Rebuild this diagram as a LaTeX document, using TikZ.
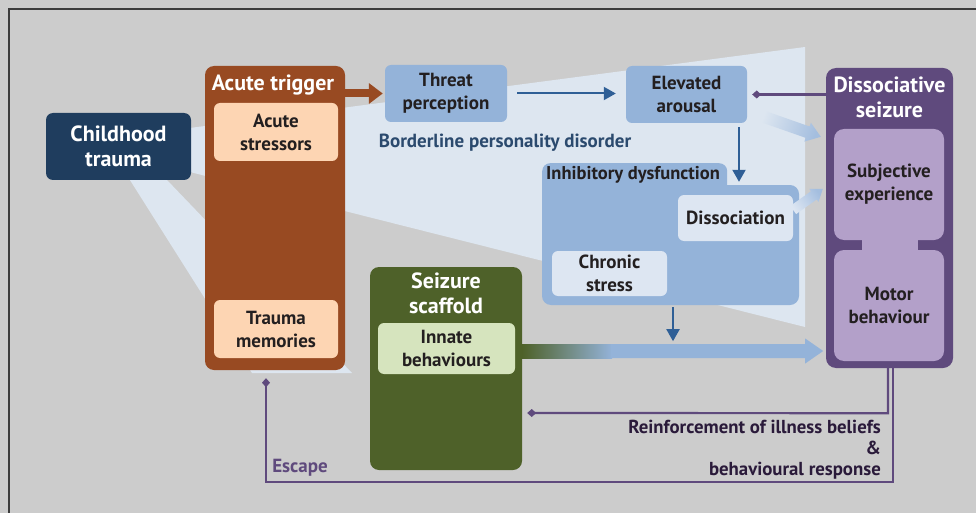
\documentclass[tikz,border=0pt]{standalone}
\usepackage{fontspec}
\setmainfont{PT Sans}
\usetikzlibrary{arrows.meta,calc}

\definecolor{bggray}{HTML}{CCCCCC}
\definecolor{framegray}{HTML}{3C3C3C}
\definecolor{wedge}{HTML}{DDE6F0}
\definecolor{navy}{HTML}{1F3D5E}
\definecolor{rust}{HTML}{984A22}
\definecolor{peach}{HTML}{FDD5B3}
\definecolor{midblue}{HTML}{94B3D9}
\definecolor{fadeblue}{HTML}{A4BEDF}
\definecolor{paleblue}{HTML}{DDE6F2}
\definecolor{deepblue}{HTML}{2F5F96}
\definecolor{bpdtext}{HTML}{2B4A6E}
\definecolor{plum}{HTML}{5F4A7D}
\definecolor{lavender}{HTML}{B3A0C9}
\definecolor{moss}{HTML}{4E6129}
\definecolor{palegreen}{HTML}{D6E4BE}
\definecolor{ink}{HTML}{231F20}
\definecolor{darkplum}{HTML}{2A1A3A}

\tikzset{
  box/.style={rounded corners=7pt, inner sep=0pt, align=center},
  inner/.style={box, rounded corners=6pt, text=ink,
    font=\bfseries\fontsize{19}{23}\selectfont},
  heading/.style={text=white, align=center, inner sep=0pt,
    font=\bfseries\fontsize{22}{25}\selectfont},
  flow/.style={draw=deepblue, line width=2pt, -{Triangle[length=12pt,width=13pt]}},
  link/.style={draw=plum, line width=2.2pt, -{Diamond[length=9pt,width=8pt]}},
}

% soft arrow that fades towards its tail:
% #1 tail, #2 tip, #3 shaft half width, #4 head length, #5 head half width,
% #6 tail colour, #7 head colour, #8 shading angle
\newcommand\fadedarrow[8]{%
  \coordinate (fa-base) at ($(#2)!#4!(#1)$);
  \shade[top color=#6, bottom color=#7, shading angle=#8]
    ($(#1)!#3!90:(#2)$) -- ($(fa-base)!#3!-90:(#1)$) -- ($(fa-base)!#5!-90:(#1)$)
    -- (#2) -- ($(fa-base)!#5!90:(#1)$) -- ($(fa-base)!#3!90:(#1)$)
    -- ($(#1)!#3!-90:(#2)$) -- cycle;
}

\begin{document}
\begin{tikzpicture}[x=1pt,y=-1pt]
\useasboundingbox (0,0) rectangle (976,513);
\fill[bggray] (0,0) rectangle (976,513);
\draw[framegray, line width=1.5pt] (9,520) -- (9,9) -- (985,9);

% background bands
\fill[wedge] (170,130.6) -- (805,47) -- (805,327) -- (170,167) -- cycle;
\fill[wedge] (123.6,170) -- (157.4,170) -- (352,373) -- (252,373) -- cycle;

% childhood trauma
\node[box, fill=navy, minimum width=145, minimum height=67, heading] (trauma) at (118.5,146.5) {Childhood\\trauma};

% acute trigger
\node[box, rounded corners=9pt, fill=rust, minimum width=140, minimum height=304] (acute) at (275,218) {};
\node[heading] (acutetitle) at (273,85) {Acute trigger};
\node[inner, fill=peach, minimum width=124, minimum height=58] (stressors) at (276,132) {Acute\\stressors};
\node[inner, fill=peach, minimum width=124, minimum height=58] (memories) at (276,329) {Trauma\\memories};

% threat and arousal
\node[inner, fill=midblue, minimum width=122, minimum height=57] (threat) at (446,93.5) {Threat\\perception};
\node[inner, fill=midblue, minimum width=121, minimum height=57] (arousal) at (686.5,94.5) {Elevated\\arousal};

\node[text=bpdtext, inner sep=0pt, font=\bfseries\fontsize{19}{23}\selectfont] (bpd) at (505,143) {Borderline personality disorder};

% inhibitory dysfunction
\node[box, rounded corners=9pt, fill=midblue, minimum width=257, minimum height=120] (inhib) at (670.5,245) {};
\node[box, rounded corners=8pt, fill=midblue, minimum width=185, minimum height=40, anchor=north west] (inhibtab) at (542,163) {};
\node[anchor=west, text=ink, inner sep=0pt, font=\bfseries\fontsize{18.5}{22}\selectfont] (inhibtitle) at (546,175) {Inhibitory dysfunction};
\node[inner, fill=paleblue, minimum width=115, minimum height=46] (diss) at (735.5,218) {Dissociation};
\node[inner, fill=paleblue, minimum width=115, minimum height=45] (chronic) at (609.5,273.5) {Chronic\\stress};

% seizure scaffold
\node[box, rounded corners=9pt, fill=moss, minimum width=152, minimum height=203] (scaffold) at (446,368.5) {};
\node[heading] (scaffoldtitle) at (446,293.5) {Seizure\\scaffold};
\node[inner, fill=palegreen, minimum width=137, minimum height=51] (innate) at (446.5,348.5) {Innate\\behaviours};

% dissociative seizure
\node[box, rounded corners=10pt, fill=plum, minimum width=127, minimum height=300] (seizure) at (889.5,218) {};
\node[heading] (seizuretitle) at (889.5,97.5) {Dissociative\\seizure};
\fill[lavender] (862,230) rectangle (918,260);
\node[inner, rounded corners=10pt, fill=lavender, minimum width=110, minimum height=111] (subj) at (889,184.5) {Subjective\\experience};
\node[inner, rounded corners=10pt, fill=lavender, minimum width=110, minimum height=111] (motor) at (889,305.5) {Motor\\behaviour};

% arrows between stages
\draw[rust, line width=8pt, -{Triangle[length=14pt,width=20pt]}, shorten >=2pt]
  (acute.east |- threat.west) -- (threat.west);
\draw[flow, shorten <=10pt, shorten >=10pt] (threat.east) -- (threat.east -| arousal.west);
\draw[flow, shorten <=4pt, shorten >=3pt]
  ([xshift=52.5pt]arousal.south) -- ([xshift=52.5pt]arousal.south |- inhib.north);
\draw[flow, shorten <=2pt] ([xshift=2.5pt]inhib.south) -- ++(0,36);

% soft arrows into the seizure
\coordinate (fa1tail) at ($(arousal.south east)+(12,-8)$);
\coordinate (fa1tip) at ($(seizure.north west)+(-5,69)$);
\fadedarrow{fa1tail}{fa1tip}{6pt}{14pt}{10pt}{wedge}{fadeblue}{70}
\coordinate (fa2tail) at ($(diss.east)+(0,-8)$);
\coordinate (fa2tip) at ($(seizure.west)+(-3,-29)$);
\fadedarrow{fa2tail}{fa2tip}{5pt}{11pt}{8pt}{paleblue}{fadeblue}{125}

% innate behaviours into the seizure
\path (scaffold.east) ++(0,-17.5) coordinate (bigtail);
\shade[left color=moss, right color=midblue] (bigtail) ++(0,-7) rectangle ++(90,14);
\fill[midblue] ($(bigtail)+(89,-7)$) -- ($(bigtail)+(283,-7)$) -- ($(bigtail)+(283,-12.5)$)
  -- ($(bigtail)+(301,0)$) -- ($(bigtail)+(283,12.5)$) -- ($(bigtail)+(283,7)$)
  -- ($(bigtail)+(89,7)$) -- cycle;

% feedback links
\draw[link, shorten >=5pt] (seizure.west |- arousal.east) -- (arousal.east);
\coordinate (reinfy) at (0,413);
\draw[link, shorten >=5pt] ([xshift=-1.5pt]seizure.south) -- ++(0,45) -- (scaffold.east |- reinfy);
\draw[link, shorten >=8pt] ([xshift=3.5pt]seizure.south) -- ++(0,114) -| ([xshift=-9pt]acute.south);

\node[anchor=north east, align=right, text=darkplum, inner sep=0pt,
  font=\bfseries\fontsize{18.8}{21}\selectfont] (reinftext) at (881,420)
  {Reinforcement of illness beliefs\\\&\\behavioural response};
\node[text=plum, inner sep=0pt, font=\bfseries\fontsize{19}{21}\selectfont] (escape) at (300,468) {Escape};
\end{tikzpicture}
\end{document}
